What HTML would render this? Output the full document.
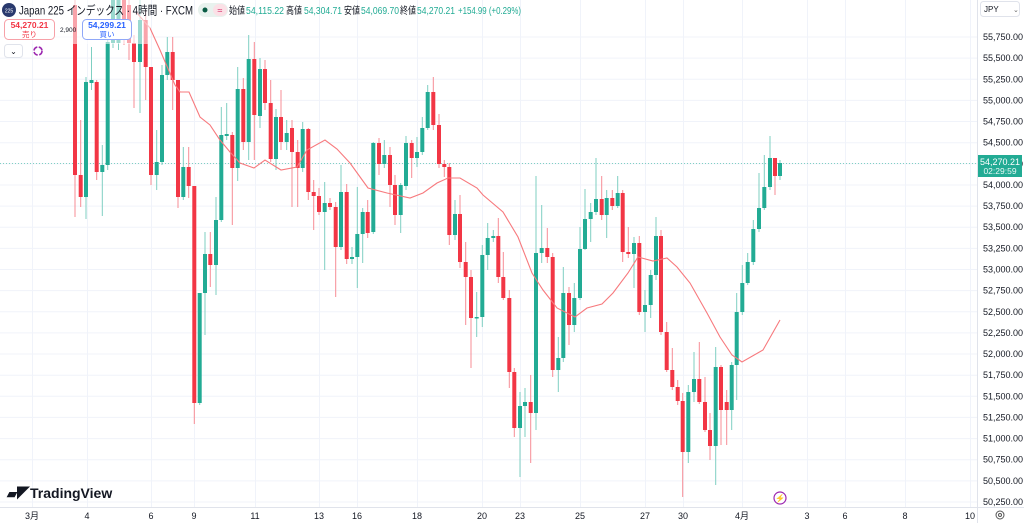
<!DOCTYPE html>
<html><head><meta charset="utf-8"><style>
html,body{margin:0;padding:0;background:#fff;width:1024px;height:523px;overflow:hidden;font-family:"Liberation Sans","Noto Sans CJK JP",sans-serif}
svg{position:absolute;left:0;top:0}
</style></head><body>
<svg id="s" width="1024" height="523" viewBox="0 0 1024 523" xmlns="http://www.w3.org/2000/svg" font-family="Liberation Sans, Noto Sans CJK JP, sans-serif">
<g id="grid" stroke="#f0f3fa" stroke-width="1"></g>
<line x1="0" y1="163.5" x2="977" y2="163.5" stroke="#7fd0c3" stroke-width="1" stroke-dasharray="1,2"/>
<g id="candles"></g>
<polyline fill="none" stroke="#f7797d" stroke-width="1.1" points="136,12 150,28 160,50 175,85 180,92 189,92 200,117 210,125 220,140 230,152 240,163 254,168 265,160 281,170 297,167 307,150 325,140 337,149 350,163 368,188 387,193 410,198 423,193 437,183 448,178 460,178 477,188 483,195 503,212 518,237 532,273 543,290 557,308 575,317 587,308 602,304 613,293 628,273 638,257 653,261 667,258 677,267 690,283 707,313 720,337 732,355 742,362 763,350 780,320"/>
<rect x="0" y="0" width="150" height="44" fill="#fff" opacity="0.55"/>
<line x1="977.5" y1="0" x2="977.5" y2="523" stroke="#e0e3eb"/>
<line x1="0" y1="507.5" x2="1024" y2="507.5" stroke="#e0e3eb"/>
<g id="ylab" font-size="9" fill="#131722"></g>
<g id="xlab" font-size="9" fill="#131722" text-anchor="middle"></g>
<rect x="978" y="155" width="44" height="22" fill="#22ab94"/>
<text x="1000" y="165" font-size="9" fill="#fff" text-anchor="middle">54,270.21</text>
<text x="1000" y="174" font-size="8.5" fill="#e6f7f4" text-anchor="middle">02:29:59</text>
<rect x="980.5" y="1.5" width="39" height="15" rx="3" fill="#fff" stroke="#e0e3eb"/>
<text x="984" y="12" font-size="8" fill="#131722">JPY</text>
<text x="1013" y="12" font-size="7" fill="#666">⌄</text>
<circle cx="1000" cy="515" r="4" fill="none" stroke="#555" stroke-width="1"/><circle cx="1000" cy="515" r="1.5" fill="none" stroke="#555"/>
<circle cx="9" cy="10" r="7" fill="#2a3a6e"/>
<text x="9" y="12.5" font-size="5" fill="#fff" text-anchor="middle">225</text>
<text x="19" y="14.5" font-size="12" fill="#131722" textLength="174" lengthAdjust="spacingAndGlyphs">Japan 225 インデックス · 4時間 · FXCM</text>
<rect x="198" y="3" width="30" height="14" rx="7" fill="#e8f2ee"/>
<circle cx="205" cy="10" r="2.5" fill="#0a5c45"/>
<rect x="213" y="4" width="14" height="12" rx="6" fill="#fbe0e6"/>
<text x="220" y="13.5" font-size="9" fill="#d6336c" text-anchor="middle">≈</text>
<g font-size="10">
<text x="229" y="14" fill="#131722" textLength="16" lengthAdjust="spacingAndGlyphs">始値</text><text x="246" y="14" fill="#22ab94" textLength="38" lengthAdjust="spacingAndGlyphs">54,115.22</text>
<text x="286" y="14" fill="#131722" textLength="16" lengthAdjust="spacingAndGlyphs">高値</text><text x="304" y="14" fill="#22ab94" textLength="38" lengthAdjust="spacingAndGlyphs">54,304.71</text>
<text x="344" y="14" fill="#131722" textLength="16" lengthAdjust="spacingAndGlyphs">安値</text><text x="361" y="14" fill="#22ab94" textLength="38" lengthAdjust="spacingAndGlyphs">54,069.70</text>
<text x="400" y="14" fill="#131722" textLength="16" lengthAdjust="spacingAndGlyphs">終値</text><text x="417" y="14" fill="#22ab94" textLength="38" lengthAdjust="spacingAndGlyphs">54,270.21</text>
<text x="458" y="14" fill="#22ab94" textLength="63" lengthAdjust="spacingAndGlyphs">+154.99 (+0.29%)</text>
</g>
<rect x="4.5" y="19.5" width="50" height="20" rx="4" fill="#fff" stroke="#f7a1a8"/>
<text x="29.5" y="28" font-size="8.5" font-weight="bold" fill="#f23645" text-anchor="middle">54,270.21</text>
<text x="29.5" y="37" font-size="7.5" fill="#f23645" text-anchor="middle">売り</text>
<text x="60" y="32" font-size="6.5" fill="#131722">2,900</text>
<rect x="82.5" y="19.5" width="49" height="20" rx="4" fill="#fff" stroke="#90a8f8"/>
<text x="107" y="28" font-size="8.5" font-weight="bold" fill="#2962ff" text-anchor="middle">54,299.21</text>
<text x="107" y="37" font-size="7.5" fill="#2962ff" text-anchor="middle">買い</text>
<rect x="4.5" y="44.5" width="18" height="13" rx="3" fill="#fff" stroke="#e0e3eb"/>
<text x="13.5" y="54" font-size="8" fill="#131722" text-anchor="middle">⌄</text>
<circle cx="38" cy="51" r="4" fill="none" stroke="#9c27b0" stroke-width="1.6" stroke-dasharray="5,1.5"/>
<text x="7" y="498" font-size="13" font-weight="bold" fill="#131722">▰◤</text>
<text x="30" y="498" font-size="14" font-weight="bold" fill="#131722">TradingView</text>
<circle cx="780" cy="498" r="6" fill="#fff" stroke="#9c27b0" stroke-width="1.2"/>
<text x="780" y="501" font-size="8" fill="#9c27b0" text-anchor="middle">⚡</text>
</svg>
<script>
var NS="http://www.w3.org/2000/svg";
function el(p,t,a){var e=document.createElementNS(NS,t);for(var k in a)e.setAttribute(k,a[k]);p.appendChild(e);return e;}
var g=document.getElementById('grid'),yl=document.getElementById('ylab'),xl=document.getElementById('xlab');
for(var i=0;i<=22;i++){var y=37+i*21.136;var p=55750-i*250;
el(g,'line',{x1:0,y1:y.toFixed(1),x2:977,y2:y.toFixed(1)});
var t=el(yl,'text',{x:983,y:(y+3).toFixed(1)});t.textContent=p.toLocaleString('en-US')+'.00';}
var xs=[[32,'3月'],[87,'4'],[151,'6'],[194,'9'],[255,'11'],[319,'13'],[357,'16'],[417,'18'],[482,'20'],[520,'23'],[580,'25'],[645,'27'],[683,'30'],[742,'4月'],[807,'3'],[845,'6'],[905,'8'],[970,'10']];
xs.forEach(function(d){el(g,'line',{x1:d[0]+.5,y1:0,x2:d[0]+.5,y2:507});var t=el(xl,'text',{x:d[0],y:519});t.textContent=d[1];});
var D=[[75,5,175,0,217,'r'],[80.7,175,197,120,207,'r'],[86,82,197,77,219,'g'],[91.5,80,83,47,90,'g'],[96.7,82,172,80,180,'r'],[102.3,165,172,145,216,'g'],[107.7,42,165,35,170,'g'],[113,0,43,0,48,'g'],[118.5,0,43,0,50,'g'],[124,0,40,0,45,'r'],[129,5,43,0,60,'r'],[134,43,62,35,108,'r'],[140,20,62,0,113,'g'],[145.7,20,67,10,100,'r'],[151,67,175,67,185,'r'],[156.7,162,175,130,190,'g'],[162,75,162,65,165,'g'],[167.3,52,75,37,80,'g'],[172.7,52,80,37,110,'r'],[178,80,197,80,208,'r'],[183.3,167,197,147,200,'g'],[188.7,167,186,147,198,'r'],[194.3,186,403,186,424,'r'],[199.7,293,403,293,405,'g'],[205,254,293,232,335,'g'],[210.3,254,265,232,287,'r'],[216,220,265,197,295,'g'],[221.3,135,220,107,222,'g'],[226.7,134,136,103,140,'g'],[232.3,135,168,132,225,'r'],[237.7,89,168,67,181,'g'],[243.3,89,142,78,150,'r'],[248.7,59,142,35,160,'g'],[254.3,59,115,42,160,'r'],[260,69,116,58,128,'g'],[265,69,103,60,110,'r'],[270.7,103,159,80,162,'r'],[276,117,159,109,170,'g'],[281,117,142,90,150,'r'],[286.7,133,142,120,150,'g'],[292,128,152,120,207,'r'],[297.7,152,168,140,207,'r'],[302.7,129,168,122,172,'g'],[308.3,129,192,128,200,'r'],[313.7,192,196,180,230,'r'],[319,196,212,188,215,'r'],[324.7,203,212,182,270,'g'],[330,203,207,198,210,'r'],[335.7,207,247,202,297,'r'],[341,192,247,165,250,'g'],[346.7,192,259,184,264,'r'],[352,257,259,247,264,'g'],[357.3,234,257,187,288,'g'],[362.7,212,234,208,263,'g'],[367.7,212,233,200,238,'r'],[373.3,143,232,142,234,'g'],[379,143,164,138,175,'r'],[384.3,155,164,140,168,'g'],[390,155,185,147,207,'r'],[395,185,215,175,225,'r'],[400.7,185,215,183,233,'g'],[406,143,186,136,190,'g'],[411.7,143,158,140,178,'r'],[417,152,158,137,167,'g'],[422.3,128,152,117,155,'g'],[427.7,92,128,85,130,'g'],[433.3,92,125,77,130,'r'],[439,125,164,114,168,'r'],[444.3,164,167,160,177,'r'],[449.3,167,235,163,245,'r'],[455,214,235,200,240,'g'],[460,214,262,195,268,'r'],[465.7,262,277,242,325,'r'],[471,277,318,270,368,'r'],[476.7,317,318,292,337,'g'],[482.3,255,317,245,327,'g'],[487.7,238,255,223,270,'g'],[493.3,236,238,230,242,'g'],[498.3,236,277,218,283,'r'],[503.3,277,298,252,300,'r'],[509.3,298,372,290,388,'r'],[514.3,372,428,368,437,'r'],[520,406,428,392,477,'g'],[525,402,406,388,437,'g'],[530.7,402,413,375,463,'r'],[536,253,413,176,430,'g'],[541.7,248,253,205,263,'g'],[547.3,248,257,228,263,'r'],[552.7,257,370,253,377,'r'],[558.3,358,370,337,392,'g'],[563.3,293,358,267,362,'g'],[569,293,325,287,345,'r'],[574.3,298,325,283,332,'g'],[580,249,298,227,300,'g'],[585,219,249,189,250,'g'],[590.7,212,219,203,242,'g'],[596,199,212,158,215,'g'],[601.7,199,215,176,220,'r'],[606.7,198,215,190,238,'g'],[612.3,198,206,190,210,'r'],[617.7,193,206,176,208,'g'],[622.7,193,252,190,262,'r'],[628.3,252,254,227,258,'r'],[634,243,254,237,288,'g'],[639.3,243,312,236,315,'r'],[645,305,312,290,332,'g'],[650.7,275,305,270,318,'g'],[656,236,275,217,280,'g'],[661,236,332,230,335,'r'],[666.7,332,370,322,372,'r'],[672.3,370,387,348,390,'r'],[677.7,387,401,380,405,'r'],[682.7,401,452,393,497,'r'],[688.3,392,452,385,463,'g'],[694,379,392,352,402,'g'],[699.3,379,402,342,404,'r'],[705,402,430,377,432,'r'],[710,430,446,413,460,'r'],[715.7,367,446,347,485,'g'],[721,367,410,365,445,'r'],[726.7,402,410,390,445,'r'],[731.7,365,410,362,430,'g'],[736.7,312,365,293,400,'g'],[742.3,283,312,265,315,'g'],[747.7,262,283,253,285,'g'],[753.3,229,262,220,265,'g'],[759,208,229,173,232,'g'],[764.3,187,208,155,210,'g'],[770,158,187,136,190,'g'],[775,158,176,158,195,'r'],[780,163,176,160,180,'g']];
var c=document.getElementById('candles');
D.forEach(function(d){var col=d[5]=='g'?'#22ab94':'#f23645';var wc=d[5]=='g'?'#7fcfc2':'#f78c94';
el(c,'line',{x1:d[0],y1:d[3],x2:d[0],y2:d[4],stroke:wc,'stroke-width':1});
el(c,'rect',{x:d[0]-2,y:d[1],width:4,height:Math.max(1.5,d[2]-d[1]),fill:col});});
</script>
</body></html>
